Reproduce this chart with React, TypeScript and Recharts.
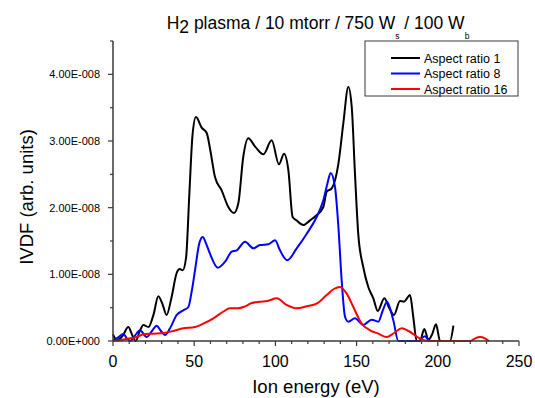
import { LineChart, Line, XAxis, YAxis } from 'recharts'

// IVDF values are in units of 1E-008, ion energy in eV
const ar1Energy = [0, 2.5, 6, 9.4, 12, 14, 16.5, 18.7, 21.8, 25, 27.9, 30.5, 33, 36, 39.2, 41, 42.9, 45, 47, 49, 51.1, 54.6, 57.7, 60, 62.8, 66.9, 71, 74.5, 77.2, 80.2, 83.3, 87.4, 92.6, 97.7, 102.2, 105.3, 108, 110.6, 113, 117.2, 121.3, 125, 129.5, 131.6, 134.7, 138.8, 141.8, 144.9, 147, 149, 151, 154.1, 157.2, 160.3, 163, 167.1, 170, 173, 176.7, 179.2, 182.9, 184.9, 187, 189, 191.7, 194.2, 196.5, 198.9, 201.4, 207.5, 209.6]
const ar1Ivdf = [0.1, 0.01, 0.08, 0.21, 0.08, 0, 0.15, 0.24, 0.21, 0.4, 0.67, 0.55, 0.39, 0.65, 1.02, 1.08, 1.06, 1.25, 2.2, 3.1, 3.36, 3.2, 3.12, 2.85, 2.46, 2.26, 2.01, 1.92, 2.07, 2.76, 3.04, 2.92, 2.8, 3.01, 2.65, 2.81, 2.56, 1.86, 1.81, 1.74, 1.81, 1.88, 2.01, 2.24, 2.29, 2.66, 3.26, 3.81, 3.51, 2.51, 1.61, 1.11, 0.81, 0.64, 0.45, 0.64, 0.5, 0.39, 0.6, 0.59, 0.69, 0.36, 0, 0, 0.18, 0.02, 0.1, 0.25, 0, 0, 0.23]

const ar8Energy = [0, 3, 6.4, 8.5, 10.5, 13.5, 16.6, 20.7, 24, 26.9, 29.5, 32, 35.1, 39.2, 43.3, 46.4, 48.5, 50.5, 53, 55.2, 57.5, 59.7, 64.5, 69, 73.1, 76.2, 81.3, 86.4, 90.5, 95.7, 99.8, 102.8, 107.3, 113.1, 119.3, 125.4, 129.5, 132, 134, 136.7, 138.8, 140.8, 142.9, 144.9, 149, 154.1, 159.3, 163.4, 166, 168.7, 172.6, 175.7, 180, 188, 192, 195, 210]
const ar8Ivdf = [0.01, 0.05, 0.11, 0.04, 0, 0.08, 0.16, 0.06, 0.15, 0.23, 0.15, 0.09, 0.19, 0.39, 0.46, 0.51, 0.75, 1.06, 1.45, 1.56, 1.45, 1.31, 1.1, 1.19, 1.34, 1.36, 1.49, 1.39, 1.44, 1.45, 1.51, 1.36, 1.21, 1.39, 1.61, 1.86, 2.11, 2.36, 2.52, 2.31, 1.71, 0.91, 0.36, 0.29, 0.34, 0.24, 0.32, 0.29, 0.45, 0.59, 0.31, 0, 0, 0, 0.07, 0, 0]

const ar16Energy = [0, 8.4, 14.6, 18.7, 24.8, 31, 37.1, 43.3, 50.5, 55.6, 61.8, 67.9, 72, 77.2, 81.3, 85.4, 90.5, 95, 100.8, 107, 113.1, 119.3, 125.4, 131.6, 136, 139.8, 143.9, 148, 153.1, 158.3, 163.4, 168.5, 173, 177.8, 182, 188, 194.2, 205, 215, 220, 223, 226, 229, 231.5]
const ar16Ivdf = [0, 0.03, 0.06, 0.1, 0.11, 0.12, 0.15, 0.19, 0.21, 0.26, 0.34, 0.44, 0.49, 0.49, 0.52, 0.57, 0.59, 0.6, 0.64, 0.54, 0.49, 0.52, 0.56, 0.69, 0.78, 0.81, 0.71, 0.51, 0.26, 0.16, 0.11, 0.06, 0.12, 0.19, 0.15, 0.05, 0, 0, 0, 0, 0.04, 0.06, 0.04, 0]

const seriesNames = ['Aspect ratio 1', 'Aspect ratio 8', 'Aspect ratio 16']
const seriesColors = ['#000000', '#0000ff', '#ff0000']

const energyTicks = [0, 10, 20, 30, 40, 50, 60, 70, 80, 90, 100, 110, 120, 130, 140, 150, 160, 170, 180, 190, 200, 210, 220, 230, 240, 250]
const ivdfTicks = [0, 0.5, 1, 1.5, 2, 2.5, 3, 3.5, 4, 4.5]

const toPoints = (energy: number[], ivdf: number[]) =>
  energy.map((e, i) => ({ energy: e, ivdf: ivdf[i] }))

const series = [
  toPoints(ar1Energy, ar1Ivdf),
  toPoints(ar8Energy, ar8Ivdf),
  toPoints(ar16Energy, ar16Ivdf),
]

const FONT = '"Liberation Sans", Arial, sans-serif'
const AXIS = '#3a3a3a'

const fmtIvdf = (v: number) => (v === 0 ? '0.00E+000' : `${v.toFixed(2)}E-008`)

function BottomTick({ x, y, payload }: any) {
  const major = payload.value % 50 === 0
  return (
    <g>
      <line x1={x} x2={x} y1={y} y2={y + (major ? 5 : 3)} stroke={AXIS} strokeWidth={1.2} />
      {major && (
        <text x={x} y={y + 26} textAnchor="middle" fontSize={16} fontFamily={FONT} fill="#000">
          {payload.value}
        </text>
      )}
    </g>
  )
}

function TopTick({ x, y, payload }: any) {
  const major = payload.value % 50 === 0
  return <line x1={x} x2={x} y1={y} y2={y + (major ? 5 : 3)} stroke={AXIS} strokeWidth={1.2} />
}

function LeftTick({ x, y, payload }: any) {
  const major = payload.value % 1 === 0
  return (
    <g>
      <line x1={x} x2={x - (major ? 5 : 3)} y1={y} y2={y} stroke={AXIS} strokeWidth={1.2} />
      {major && (
        <text x={x - 13} y={y + 4} textAnchor="end" fontSize={11} fontFamily={FONT} fill="#000">
          {fmtIvdf(payload.value)}
        </text>
      )}
    </g>
  )
}

function RightTick({ x, y, payload }: any) {
  const major = payload.value % 1 === 0
  return <line x1={x} x2={x - (major ? 5 : 3)} y1={y} y2={y} stroke={AXIS} strokeWidth={1.2} />
}

export default function App() {
  return (
    <div style={{ position: 'absolute', left: 0, top: 0, width: 535, height: 398, background: '#fff' }}>
      <LineChart width={535} height={398} margin={{ top: 41, right: 16, bottom: 0, left: 0 }}>
        <XAxis
          xAxisId="bottom"
          type="number"
          dataKey="energy"
          domain={[0, 250]}
          ticks={energyTicks}
          interval={0}
          height={57}
          tickSize={0}
          tickMargin={0}
          tickLine={false}
          axisLine={{ stroke: AXIS, strokeWidth: 1.5 }}
          tick={(p: any) => <BottomTick {...p} />}
        />
        <XAxis
          xAxisId="top"
          orientation="top"
          type="number"
          dataKey="energy"
          domain={[0, 250]}
          ticks={energyTicks}
          interval={0}
          height={0}
          tickSize={0}
          tickMargin={0}
          tickLine={false}
          axisLine={{ stroke: AXIS, strokeWidth: 1.5 }}
          tick={(p: any) => <TopTick {...p} />}
        />
        <YAxis
          yAxisId="left"
          type="number"
          domain={[0, 4.5]}
          ticks={ivdfTicks}
          interval={0}
          width={113}
          tickSize={0}
          tickMargin={0}
          tickLine={false}
          axisLine={{ stroke: AXIS, strokeWidth: 1.5 }}
          tick={(p: any) => <LeftTick {...p} />}
        />
        <YAxis
          yAxisId="right"
          orientation="right"
          type="number"
          domain={[0, 4.5]}
          ticks={ivdfTicks}
          interval={0}
          width={0}
          tickSize={0}
          tickMargin={0}
          tickLine={false}
          axisLine={{ stroke: AXIS, strokeWidth: 1.5 }}
          tick={(p: any) => <RightTick {...p} />}
        />
        {series.map((data, i) => (
          <Line
            key={seriesNames[i]}
            xAxisId="bottom"
            yAxisId="left"
            data={data}
            dataKey="ivdf"
            name={seriesNames[i]}
            type="monotone"
            stroke={seriesColors[i]}
            strokeWidth={2}
            dot={false}
            isAnimationActive={false}
          />
        ))}
      </LineChart>

      <svg
        width={535}
        height={398}
        style={{ position: 'absolute', left: 0, top: 0, pointerEvents: 'none' }}
        fontFamily={FONT}
      >
        <text x={318} y={29} textAnchor="middle" fontSize={17.5} fill="#000">
          H<tspan dy={3.5}>2</tspan>
          <tspan dy={-3.5}> plasma / 10 mtorr / 750 W</tspan>
          <tspan fontSize={8.5} dy={10}>s</tspan>
          <tspan dy={-10}> / 100 W</tspan>
          <tspan fontSize={8.5} dy={10}>b</tspan>
        </text>
        <text x={316} y={393} textAnchor="middle" fontSize={18.5} fill="#000">
          Ion energy (eV)
        </text>
        <text
          x={0}
          y={0}
          transform="translate(33, 197) rotate(-90)"
          textAnchor="middle"
          fontSize={18.5}
          fill="#000"
        >
          IVDF (arb. units)
        </text>

        <rect x={365} y={41} width={153} height={55} fill="#fff" stroke={AXIS} strokeWidth={1} />
        {seriesNames.map((name, i) => (
          <g key={name}>
            <line x1={391} x2={420} y1={58 + i * 15.5} y2={58 + i * 15.5} stroke={seriesColors[i]} strokeWidth={2} />
            <text x={424} y={62.5 + i * 15.5} fontSize={12.5} fill="#000">
              {name}
            </text>
          </g>
        ))}
      </svg>
    </div>
  )
}
